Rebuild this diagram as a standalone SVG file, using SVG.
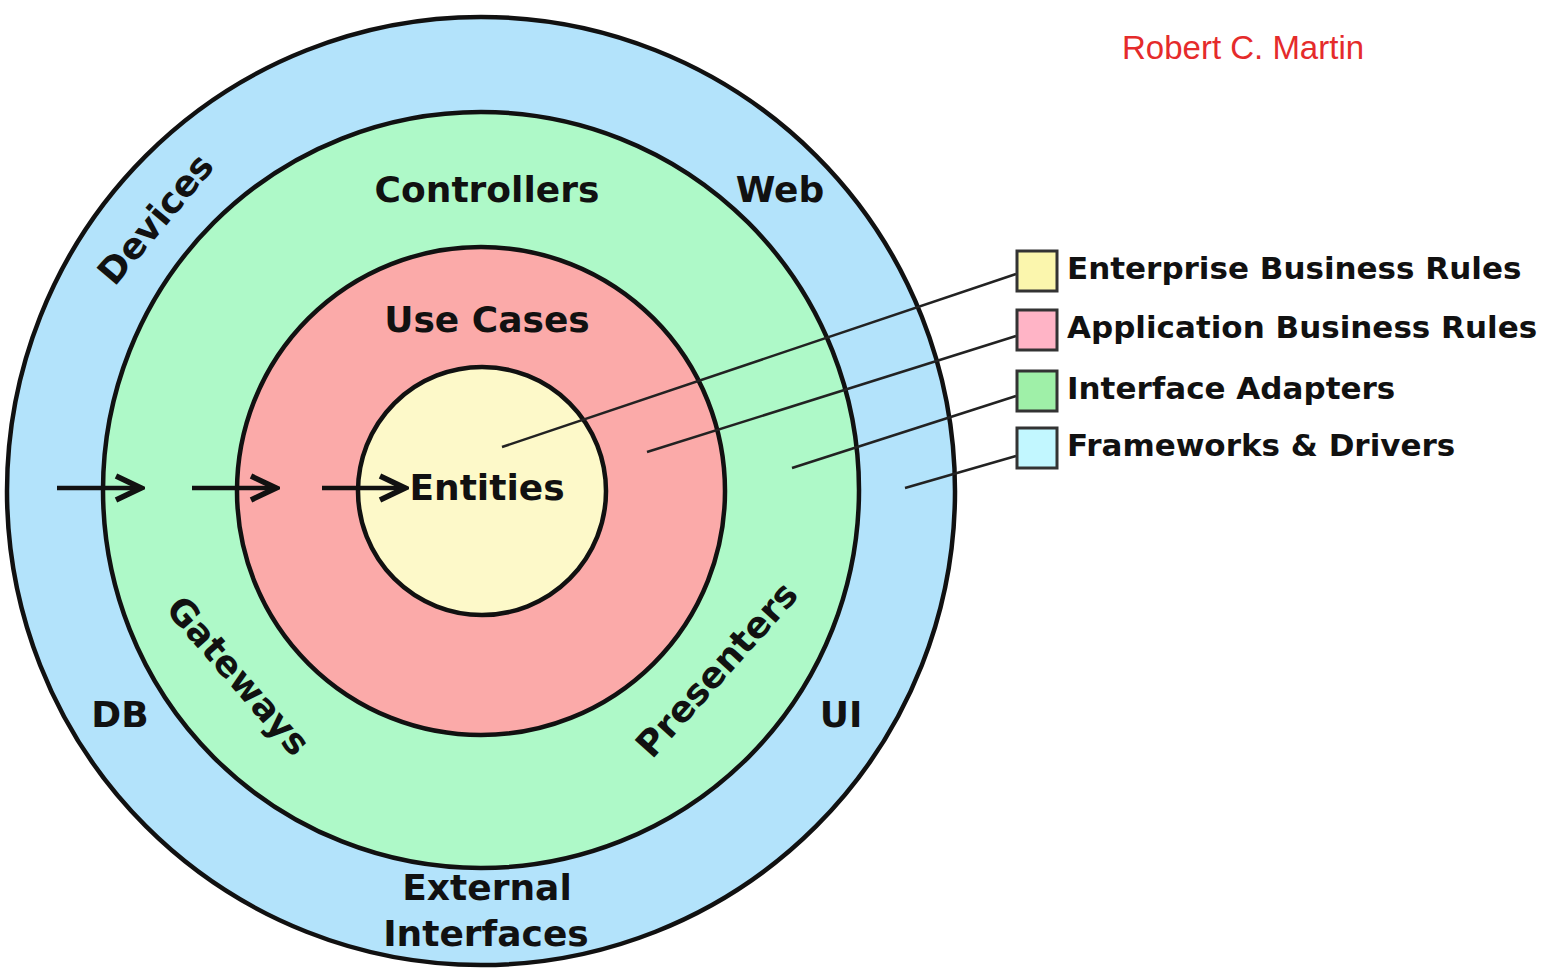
<svg xmlns="http://www.w3.org/2000/svg" width="1543" height="976" viewBox="0 0 1543 976">
<defs>
<style>
.ring{stroke:#111;stroke-width:4.5}
.lbl{font-family:"DejaVu Sans",Verdana,sans-serif;font-weight:bold;font-size:36px;fill:#111;text-anchor:middle}
.leg{font-family:"DejaVu Sans",Verdana,sans-serif;font-weight:bold;font-size:31px;fill:#111}
.box{stroke:#333;stroke-width:3}
.lead{stroke:#222;stroke-width:2.5;fill:none}
.arr{stroke:#111;stroke-width:4.5;fill:none}
</style>
<marker id="head" markerUnits="userSpaceOnUse" viewBox="0 0 32 30" markerWidth="32" markerHeight="30" refX="28" refY="15" orient="auto">
<path d="M3,3 L28,15 L3,27" fill="none" stroke="#111" stroke-width="5.5" stroke-linejoin="miter"/>
</marker>
</defs>
<rect width="1543" height="976" fill="#ffffff"/>
<g id="frameworks-drivers">
<circle class="ring" cx="481" cy="491" r="474" fill="#b3e3fb"/>
<text class="lbl" transform="translate(165,227) rotate(-50)" x="0" y="0">Devices</text>
<text class="lbl" x="780" y="202">Web</text>
<text class="lbl" x="120" y="727">DB</text>
<text class="lbl" x="841" y="727">UI</text>
<text class="lbl" x="487" y="900">External</text>
<text class="lbl" x="486" y="946">Interfaces</text>
</g>
<g id="interface-adapters">
<circle class="ring" cx="481" cy="490" r="378" fill="#aef9c8"/>
<text class="lbl" x="487" y="202">Controllers</text>
<text class="lbl" transform="translate(229,684) rotate(49)" x="0" y="0">Gateways</text>
<text class="lbl" transform="translate(726,678) rotate(-48)" x="0" y="0">Presenters</text>
</g>
<g id="use-cases">
<circle class="ring" cx="481" cy="491" r="244" fill="#fbaaa9"/>
<text class="lbl" x="487" y="332">Use Cases</text>
</g>
<g id="entities">
<circle class="ring" cx="482" cy="491" r="124" fill="#fdf9c9"/>
<text class="lbl" x="487" y="500">Entities</text>
</g>
<g id="connectors">
<line class="arr" x1="57" y1="488" x2="141" y2="488" marker-end="url(#head)"/>
<line class="arr" x1="192" y1="488" x2="276" y2="488" marker-end="url(#head)"/>
<line class="arr" x1="322" y1="488" x2="405" y2="488" marker-end="url(#head)"/>
<line class="lead" x1="502" y1="447" x2="1016" y2="274"/>
<line class="lead" x1="647" y1="452" x2="1016" y2="336"/>
<line class="lead" x1="792" y1="468" x2="1016" y2="396"/>
<line class="lead" x1="905" y1="488" x2="1016" y2="456"/>
</g>
<g id="legend-enterprise">
<rect class="box" x="1017" y="251" width="40" height="40" fill="#fbf6ad"/>
<text class="leg" x="1067" y="279">Enterprise Business Rules</text>
</g>
<g id="legend-application">
<rect class="box" x="1017" y="310" width="40" height="40" fill="#ffb4c6"/>
<text class="leg" x="1067" y="338">Application Business Rules</text>
</g>
<g id="legend-interface">
<rect class="box" x="1017" y="371" width="40" height="40" fill="#9ff0a8"/>
<text class="leg" x="1067" y="399">Interface Adapters</text>
</g>
<g id="legend-frameworks">
<rect class="box" x="1017" y="428" width="40" height="40" fill="#c2f7ff"/>
<text class="leg" x="1067" y="456">Frameworks &amp; Drivers</text>
</g>
<g id="author">
<text x="1122" y="59" font-family="'Liberation Sans',Arial,sans-serif" font-size="33" fill="#e52b2b">Robert C. Martin</text>
</g>
</svg>
